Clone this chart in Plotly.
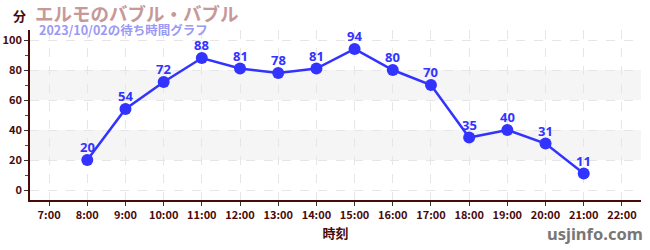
import plotly.graph_objects as go

hours = [8, 9, 10, 11, 12, 13, 14, 15, 16, 17, 18, 19, 20, 21]
waits = [20, 54, 72, 88, 81, 78, 81, 94, 80, 70, 35, 40, 31, 11]
tick_hours = list(range(7, 23))
tick_labels = [f"{h}:00" for h in tick_hours]
y_ticks = [0, 20, 40, 60, 80, 100]
bands = [(20, 40), (60, 80)]

title = "エルモのバブル・バブル"
subtitle = "2023/10/02の待ち時間グラフ"
font = "Noto Sans CJK JP"
num_font = "Noto Sans"
axis_col = "#4a0a0a"

L, R, T, B = 30, 9, 30, 50
PW, PH = 650 - L - R, 250 - T - B

def px(x):
    return (x - L) / PW

def py(y):
    return (250 - B - y) / PH

fig = go.Figure()
for y0, y1 in bands:
    fig.add_shape(type="rect", xref="paper", yref="y", x0=0, x1=1, y0=y0, y1=y1,
                  fillcolor="#f5f5f5", line_width=0, layer="below")

fig.add_trace(go.Scatter(
    x=hours, y=waits, mode="lines+markers",
    line=dict(color="#3333ff", width=2.5),
    marker=dict(color="#3333ff", size=12),
    cliponaxis=False, hoverinfo="skip"))

for h, v in zip(hours, waits):
    fig.add_annotation(x=h, y=v, text="<b>%d</b>" % v, showarrow=False,
                       yanchor="bottom", yshift=3, borderpad=0,
                       font=dict(color="#3333ff", size=13, family=num_font))

fig.update_layout(
    width=650, height=250,
    margin=dict(l=L, r=R, t=T, b=B),
    plot_bgcolor="white", paper_bgcolor="white",
    showlegend=False,
    font=dict(family=font, color=axis_col),
)
fig.update_xaxes(
    range=[6.5, 22.5], tickvals=tick_hours, ticktext=tick_labels,
    showgrid=True, gridcolor="#e6e6e6", griddash="dash", gridwidth=1,
    showline=True, linecolor=axis_col, linewidth=1.5,
    ticks="outside", ticklen=4, tickcolor="#333333",
    tickfont=dict(size=11, color=axis_col, family=font, weight="bold"),
    zeroline=False, automargin=False,
    title=dict(text="時刻", font=dict(size=13, color=axis_col, family=font, weight="bold"), standoff=8),
)
fig.update_yaxes(
    range=[-6.67, 106.67], tickvals=y_ticks,
    showgrid=True, gridcolor="#e6e6e6", griddash="dash", gridwidth=1,
    showline=True, linecolor=axis_col, linewidth=1.5,
    ticks="outside", ticklen=4, tickcolor="#333333",
    tickfont=dict(size=11, color=axis_col, family=font, weight="bold"),
    zeroline=False, automargin=False,
    minor=dict(tickvals=[10, 30, 50, 70, 90], ticks="outside", ticklen=3, tickcolor="#ff0000", showgrid=False),
)

fig.add_annotation(xref="paper", yref="paper", x=px(11), y=py(15),
                   text="<b>分</b>", showarrow=False, xanchor="left", yanchor="middle",
                   font=dict(size=13, color=axis_col, family=font))
fig.add_annotation(xref="paper", yref="paper", x=px(33), y=py(13.5),
                   text="<b>" + title + "</b>", showarrow=False, xanchor="left", yanchor="middle",
                   font=dict(size=18.5, color="#c89898", family=font))
fig.add_annotation(xref="paper", yref="paper", x=px(38), y=py(29),
                   text="<b>" + subtitle + "</b>", showarrow=False, xanchor="left", yanchor="middle",
                   borderpad=0,
                   font=dict(size=12.5, color="#9a9af5", family=font))
fig.add_annotation(xref="paper", yref="paper", x=px(645), y=py(233),
                   text="<b>usjinfo.com</b>", showarrow=False, xanchor="right", yanchor="middle",
                   font=dict(size=16.5, color="#777777", family="Noto Sans"))

fig.write_html("out.html")
